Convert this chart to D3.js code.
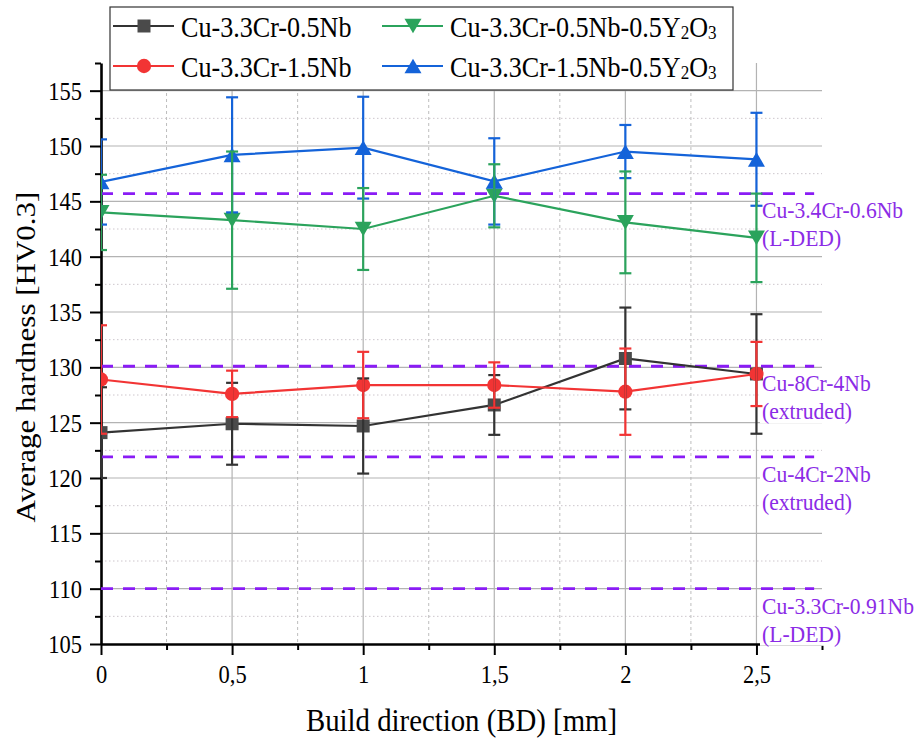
<!DOCTYPE html>
<html>
<head>
<meta charset="utf-8">
<script src="https://cdn.jsdelivr.net/npm/d3@7"></script>
<style>
  body { margin: 0; background: #ffffff; }
  svg { display: block; }
</style>
</head>
<body>
<svg id="chart" width="919" height="745"></svg>
<script>
// ---- data ----
const positions = [0, 0.5, 1, 1.5, 2, 2.5];              // build direction [mm]
const xTickValues = [0, 0.5, 1, 1.5, 2, 2.5];
const xTickLabels = ["0", "0,5", "1", "1,5", "2", "2,5"];
const yTickValues = [105, 110, 115, 120, 125, 130, 135, 140, 145, 150, 155];

const seriesNames = ["Cu-3.3Cr-0.5Nb", "Cu-3.3Cr-1.5Nb",
                     "Cu-3.3Cr-0.5Nb-0.5Y2O3", "Cu-3.3Cr-1.5Nb-0.5Y2O3"];
const hv_05Nb      = [124.1, 124.9, 124.7, 126.6, 130.8, 129.4];
const err_05Nb     = [4.1, 3.7, 4.3, 2.7, 4.6, 5.4];
const hv_15Nb      = [128.9, 127.6, 128.4, 128.4, 127.8, 129.4];
const err_15Nb     = [4.9, 2.1, 3.0, 2.05, 3.9, 2.9];
const hv_05Nb_Y    = [144.0, 143.3, 142.5, 145.5, 143.1, 141.7];
const err_05Nb_Y   = [3.4, 6.2, 3.7, 2.85, 4.6, 4.0];
const hv_15Nb_Y    = [146.75, 149.2, 149.85, 146.8, 149.5, 148.8];
const err_15Nb_Y   = [3.85, 5.2, 4.6, 3.9, 2.4, 4.2];

// literature reference hardness levels
const refValues = [145.7, 130.1, 121.9, 110.0];
const refLabels = [["Cu-3.4Cr-0.6Nb", "(L-DED)"],
                   ["Cu-8Cr-4Nb", "(extruded)"],
                   ["Cu-4Cr-2Nb", "(extruded)"],
                   ["Cu-3.3Cr-0.91Nb", "(L-DED)"]];

// ---- styling ----
const FONT = "'Liberation Serif','Times New Roman',serif";
const SX = 0.9;   // horizontal text compression
const styles = [
  { color: "#333333", fill: "#4a4a4a", shape: "square" },
  { color: "#f23434", fill: "#f23434", shape: "circle" },
  { color: "#2ba35c", fill: "#2ba35c", shape: "down" },
  { color: "#1463d9", fill: "#1463d9", shape: "up" }
];
const PURPLE = "#8a1cf5";
const PURPLE_TEXT = "#8b2be6";

const series = [
  { name: seriesNames[0], values: hv_05Nb,   errors: err_05Nb,   ...styles[0] },
  { name: seriesNames[1], values: hv_15Nb,   errors: err_15Nb,   ...styles[1] },
  { name: seriesNames[2], values: hv_05Nb_Y, errors: err_05Nb_Y, ...styles[2] },
  { name: seriesNames[3], values: hv_15Nb_Y, errors: err_15Nb_Y, ...styles[3] }
];
const errorBarOrder = [0, 1, 3, 2];

// ---- layout ----
const plot = { left: 101, right: 822, top: 63, bottom: 644 };
const x = d3.scaleLinear().domain([0, 2.75]).range([plot.left, plot.right]);
const y = d3.scaleLinear().domain([105, 157.5]).range([plot.bottom, plot.top]);

const svg = d3.select("#chart");
svg.append("rect").attr("width", 919).attr("height", 745).attr("fill", "#ffffff");

function text(g, px, py, str, size, opts = {}) {
  return g.append("text")
    .attr("transform", `translate(${px},${py}) scale(${SX},1)`)
    .attr("font-family", FONT)
    .attr("font-size", size)
    .attr("text-anchor", opts.anchor || "start")
    .attr("dominant-baseline", "central")
    .attr("fill", opts.fill || "#000")
    .text(str);
}

// triangle symbols centred on their bounding box
const triUp = { draw(ctx, size) {
  const w = Math.sqrt(size * 4 / Math.sqrt(3)), h = w * Math.sqrt(3) / 2;
  ctx.moveTo(0, -h / 2); ctx.lineTo(w / 2, h / 2); ctx.lineTo(-w / 2, h / 2); ctx.closePath();
}};
const triDown = { draw(ctx, size) {
  const w = Math.sqrt(size * 4 / Math.sqrt(3)), h = w * Math.sqrt(3) / 2;
  ctx.moveTo(0, h / 2); ctx.lineTo(w / 2, -h / 2); ctx.lineTo(-w / 2, -h / 2); ctx.closePath();
}};
function symbolFor(shape) {
  if (shape === "square") return d3.symbol(d3.symbolSquare, 169)();
  if (shape === "circle") return d3.symbol(d3.symbolCircle, 160)();
  if (shape === "up") return d3.symbol(triUp, 125)();
  return d3.symbol(triDown, 125)();
}

// ---- grid ----
const grid = svg.append("g");
const yMinor = yTickValues.map(v => v + 2.5);
const xMinor = xTickValues.map(v => v + 0.25);
grid.selectAll(".ymin").data(yMinor.filter(v => v < 157.5)).join("line")
  .attr("x1", plot.left).attr("x2", plot.right)
  .attr("y1", d => y(d)).attr("y2", d => y(d))
  .attr("stroke", "#cdc6cc").attr("stroke-width", 1).attr("stroke-dasharray", "1.5,2.5");
grid.selectAll(".xmin").data(xMinor.filter(v => v < 2.75)).join("line")
  .attr("x1", d => x(d)).attr("x2", d => x(d))
  .attr("y1", plot.top).attr("y2", plot.bottom)
  .attr("stroke", "#bdbdbd").attr("stroke-width", 1).attr("stroke-dasharray", "3,3");
grid.selectAll(".ymaj").data(yTickValues.slice(1)).join("line")
  .attr("x1", plot.left).attr("x2", plot.right)
  .attr("y1", d => y(d)).attr("y2", d => y(d))
  .attr("stroke", "#b3b3b3").attr("stroke-width", 1.2);
grid.selectAll(".xmaj").data(xTickValues.slice(1)).join("line")
  .attr("x1", d => x(d)).attr("x2", d => x(d))
  .attr("y1", plot.top).attr("y2", plot.bottom)
  .attr("stroke", "#b3b3b3").attr("stroke-width", 1.2);

// ---- axes ----
const axes = svg.append("g");
const yAxis = axes.append("g").attr("transform", `translate(${plot.left},0)`)
  .call(d3.axisLeft(y).tickValues(yTickValues).tickSize(11).tickSizeOuter(0)
        .tickFormat(d3.format("d")));
axes.append("g").attr("transform", `translate(${plot.left},0)`)
  .call(d3.axisLeft(y).tickValues(yMinor).tickSize(6).tickSizeOuter(0).tickFormat(""))
  .select(".domain").remove();
const xAxis = axes.append("g").attr("transform", `translate(0,${plot.bottom})`)
  .call(d3.axisBottom(x).tickValues(xTickValues).tickSize(11).tickSizeOuter(0)
        .tickFormat((d, i) => xTickLabels[i]));
axes.append("g").attr("transform", `translate(0,${plot.bottom})`)
  .call(d3.axisBottom(x).tickValues(xMinor).tickSize(6).tickSizeOuter(0).tickFormat(""))
  .select(".domain").remove();
axes.selectAll(".domain").attr("stroke", "#000").attr("stroke-width", 2.6);
axes.selectAll(".tick line").attr("stroke", "#000").attr("stroke-width", 2);
yAxis.selectAll(".tick text")
  .attr("font-family", FONT).attr("font-size", 25).attr("fill", "#000")
  .attr("x", -19 / SX).attr("dy", null).attr("dominant-baseline", "central")
  .attr("transform", `scale(${SX},1)`);
xAxis.selectAll(".tick text")
  .attr("font-family", FONT).attr("font-size", 25).attr("fill", "#000")
  .attr("y", 31).attr("dy", null).attr("dominant-baseline", "central");
xAxis.selectAll(".tick").each(function () {
  const t = d3.select(this).select("text");
  t.attr("transform", `scale(${SX},1)`);
});

// axis titles
text(svg, (plot.left + plot.right) / 2, 720, "Build direction (BD) [mm]", 32, { anchor: "middle" });
svg.append("text")
  .attr("transform", `translate(26,357) rotate(-90) scale(1,${SX})`)
  .attr("font-family", FONT).attr("font-size", 31)
  .attr("text-anchor", "middle").attr("dominant-baseline", "central")
  .text("Average hardness [HV0.3]");

// ---- reference lines ----
const refs = svg.append("g");
refs.selectAll("line").data(refValues).join("line")
  .attr("x1", x(0)).attr("x2", x(2.72))
  .attr("y1", d => y(d)).attr("y2", d => y(d))
  .attr("stroke", PURPLE).attr("stroke-width", 2.8).attr("stroke-dasharray", "12,10");

refValues.forEach((v, i) => {
  const g = refs.append("g");
  const bg = g.append("rect").attr("fill", "#ffffff");
  const t1 = text(g, 762, y(v) + 17, refLabels[i][0], 24, { fill: PURPLE_TEXT });
  const t2 = text(g, 762, y(v) + 45, refLabels[i][1], 24, { fill: PURPLE_TEXT });
  const b1 = t1.node().getBBox(), b2 = t2.node().getBBox();
  const w = Math.max(b1.width, b2.width) * SX;
  bg.attr("x", 760).attr("y", y(v) + 17 - b1.height / 2 + 1)
    .attr("width", w + 6).attr("height", 28 + b1.height - 2);
});

// ---- data series ----
svg.append("clipPath").attr("id", "plotClip").append("rect")
  .attr("x", plot.left).attr("y", plot.top - 10)
  .attr("width", plot.right - plot.left + 10).attr("height", plot.bottom - plot.top + 10);
const data = svg.append("g").attr("clip-path", "url(#plotClip)");

const line = d3.line().x((d, i) => x(positions[i])).y(d => y(d));
series.forEach(s => {
  data.append("path").datum(s.values).attr("d", line)
    .attr("fill", "none").attr("stroke", s.color).attr("stroke-width", 2.2);
});
series.forEach(s => {
  data.append("g").selectAll("path").data(s.values).join("path")
    .attr("transform", (d, i) => `translate(${x(positions[i])},${y(d)})`)
    .attr("d", symbolFor(s.shape)).attr("fill", s.fill);
});
errorBarOrder.forEach(k => {
  const s = series[k];
  const g = data.append("g").attr("stroke", s.color).attr("stroke-width", 2.2);
  s.values.forEach((v, i) => {
    const cx = x(positions[i]), lo = y(v - s.errors[i]), hi = y(v + s.errors[i]);
    g.append("line").attr("x1", cx).attr("x2", cx).attr("y1", lo).attr("y2", hi);
    g.append("line").attr("x1", cx - 6).attr("x2", cx + 6).attr("y1", lo).attr("y2", lo);
    g.append("line").attr("x1", cx - 6).attr("x2", cx + 6).attr("y1", hi).attr("y2", hi);
  });
});

// ---- legend ----
const legend = svg.append("g");
legend.append("rect").attr("x", 110).attr("y", 7).attr("width", 623).attr("height", 83)
  .attr("fill", "#ffffff").attr("stroke", "#333").attr("stroke-width", 1.2);
const legendSlots = [
  { lx: 113, ty: 26 }, { lx: 113, ty: 66 }, { lx: 382, ty: 26 }, { lx: 382, ty: 66 }
];
series.forEach((s, i) => {
  const slot = legendSlots[i];
  legend.append("line").attr("x1", slot.lx).attr("x2", slot.lx + 61)
    .attr("y1", slot.ty).attr("y2", slot.ty)
    .attr("stroke", s.color).attr("stroke-width", 2.2);
  legend.append("path").attr("transform", `translate(${slot.lx + 31},${slot.ty})`)
    .attr("d", symbolFor(s.shape)).attr("fill", s.fill);
  const t = text(legend, slot.lx + 68, slot.ty, "", 29);
  // chemical formula: digits following Y or O are subscripts
  const parts = s.name.split(/(?<=[YO])(\d)/);
  parts.forEach((p, j) => {
    if (!p) return;
    const sub = j % 2 === 1;
    t.append("tspan").text(p)
      .attr("font-size", sub ? 19 : 29)
      .attr("dy", sub ? 7 : (j > 0 ? -7 : 0));
  });
});
</script>
</body>
</html>
